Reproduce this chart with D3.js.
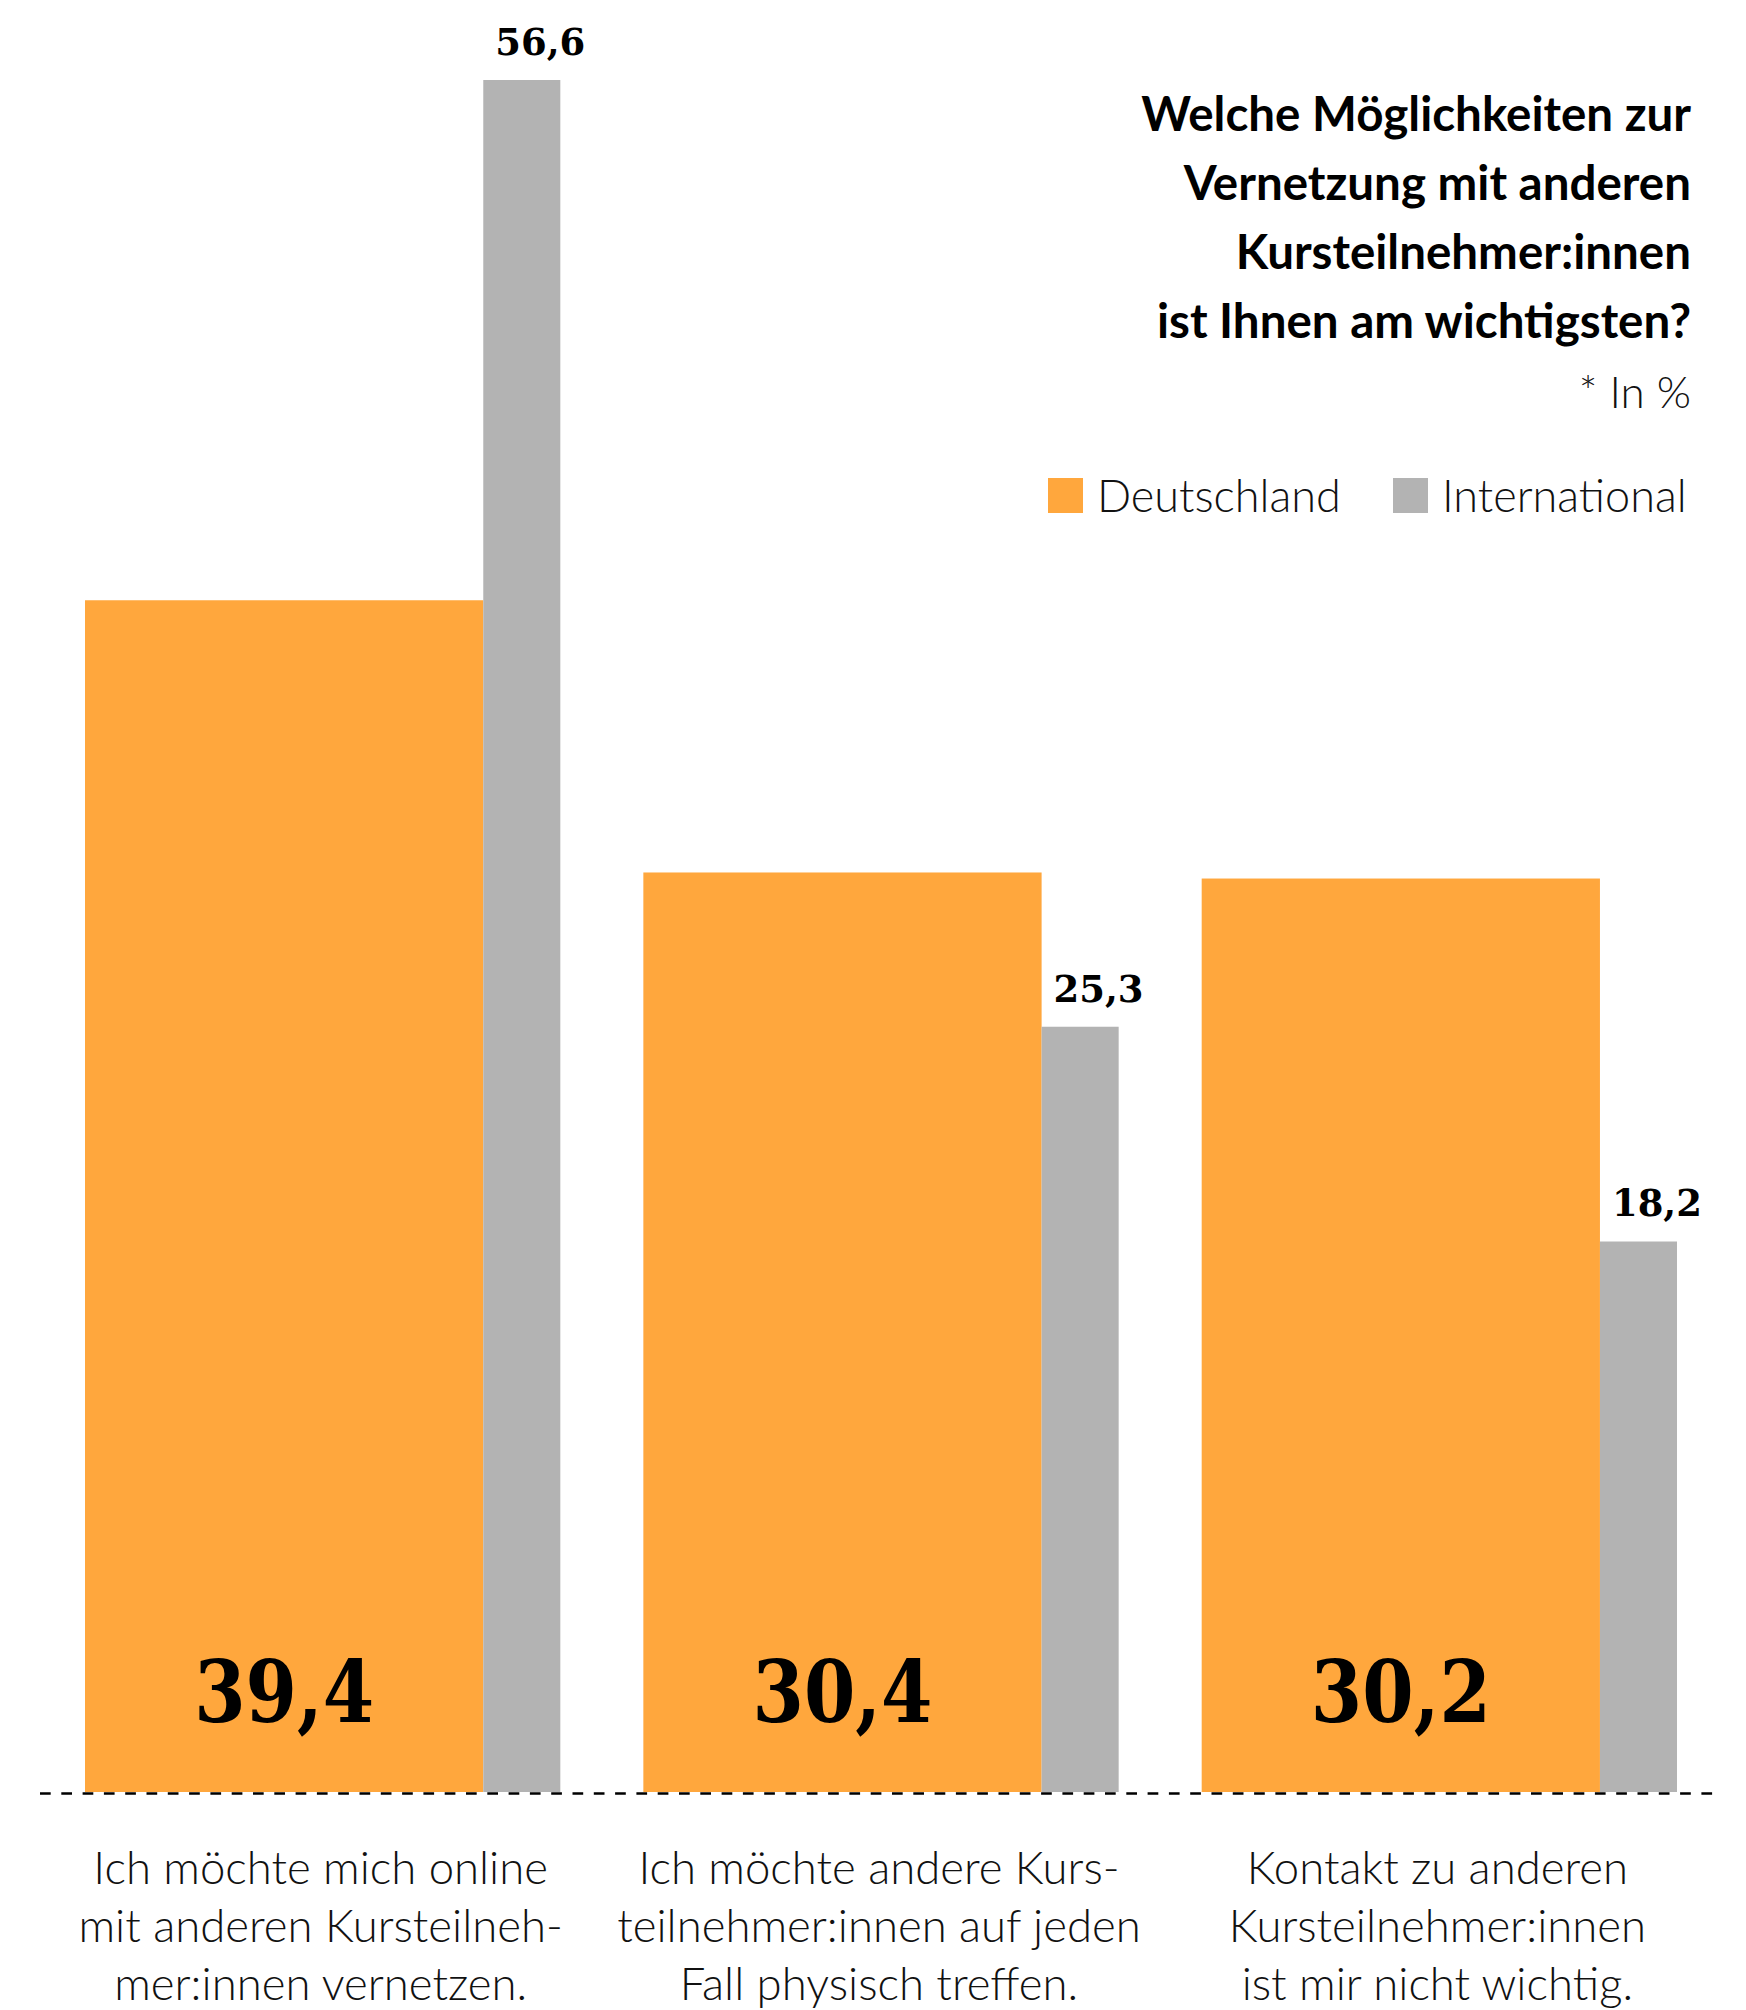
<!DOCTYPE html>
<html>
<head>
<meta charset="utf-8">
<script src="https://cdn.jsdelivr.net/npm/d3@7"></script>
<style>
  html, body { margin: 0; padding: 0; background: #fff; }
  svg { display: block; }
</style>
</head>
<body>
<svg id="chart" width="1746" height="2010"></svg>
<script>
// ---- data ----
const categories = [
  ["Ich möchte mich online", "mit anderen Kursteilneh-", "mer:innen vernetzen."],
  ["Ich möchte andere Kurs-", "teilnehmer:innen auf jeden", "Fall physisch treffen."],
  ["Kontakt zu anderen", "Kursteilnehmer:innen", "ist mir nicht wichtig."]
];
const seriesNames = ["Deutschland", "International"];
const deutschland = [39.4, 30.4, 30.2];
const international = [56.6, 25.3, 18.2];
const titleLines = [
  "Welche Möglichkeiten zur",
  "Vernetzung mit anderen",
  "Kursteilnehmer:innen",
  "ist Ihnen am wichtigsten?"
];
const unitNote = "* In %";

// ---- layout ----
const baseY = 1792;
const colors = { Deutschland: "#FFA73D", International: "#B3B3B3" };
const locale = d3.formatLocale({ decimal: ",", thousands: ".", grouping: [3], currency: ["", " €"] });
const fmt = locale.format(".1f");

const svg = d3.select("#chart");
const ids = d3.range(categories.length);

const x = d3.scaleBand().domain(ids).range([85, 1677]).paddingInner(0.1487).paddingOuter(0);
const y = d3.scaleLinear().domain([0, 56.6]).range([baseY, 80]);
const orangeFrac = 398 / 475;

const g = svg.append("g");

// orange bars
g.selectAll("rect.de").data(deutschland).join("rect")
  .attr("class", "de")
  .attr("x", (d, i) => x(i))
  .attr("y", d => y(d))
  .attr("width", x.bandwidth() * orangeFrac)
  .attr("height", d => baseY - y(d))
  .attr("fill", colors.Deutschland);

// gray bars
g.selectAll("rect.int").data(international).join("rect")
  .attr("class", "int")
  .attr("x", (d, i) => x(i) + x.bandwidth() * orangeFrac)
  .attr("y", d => y(d))
  .attr("width", x.bandwidth() * (1 - orangeFrac))
  .attr("height", d => baseY - y(d))
  .attr("fill", colors.International);

// big labels in orange bars
g.selectAll("text.de").data(deutschland).join("text")
  .attr("class", "de")
  .attr("x", (d, i) => x(i) + x.bandwidth() * orangeFrac / 2)
  .attr("y", baseY - 70)
  .attr("text-anchor", "middle")
  .attr("font-family", "DejaVu Serif")
  .attr("font-weight", "bold")
  .attr("font-size", 86)
  .attr("textLength", 180)
  .attr("lengthAdjust", "spacingAndGlyphs")
  .attr("fill", "#000")
  .text(d => fmt(d));

// labels above gray bars
g.selectAll("text.int").data(international).join("text")
  .attr("class", "int")
  .attr("x", (d, i) => x(i) + x.bandwidth() * orangeFrac + 12)
  .attr("y", d => y(d) - 25)
  .attr("font-family", "DejaVu Serif")
  .attr("font-weight", "bold")
  .attr("font-size", 38)
  .attr("textLength", 90)
  .attr("lengthAdjust", "spacingAndGlyphs")
  .attr("fill", "#000")
  .text(d => fmt(d));

// dashed baseline
svg.append("line")
  .attr("x1", 40).attr("x2", 1716)
  .attr("y1", baseY + 1.5).attr("y2", baseY + 1.5)
  .attr("stroke", "#000")
  .attr("stroke-width", 2.5)
  .attr("stroke-dasharray", "10.7,10.6");

// category labels
const catG = svg.selectAll("g.cat").data(categories).join("g")
  .attr("class", "cat")
  .attr("transform", (d, i) => `translate(${x(i) + x.bandwidth() / 2 - 2},0)`);
catG.selectAll("text").data(d => d).join("text")
  .attr("x", 0)
  .attr("y", (d, j) => 1884 + j * 58)
  .attr("text-anchor", "middle")
  .attr("font-family", "Lato")
  .attr("font-weight", 300)
  .attr("font-size", 45.5)
  .attr("fill", "#111")
  .text(d => d);

// title
const titleG = svg.append("g");
titleG.selectAll("text").data(titleLines).join("text")
  .attr("x", 1691)
  .attr("y", (d, i) => 131 + i * 69)
  .attr("text-anchor", "end")
  .attr("font-family", "Lato")
  .attr("font-weight", "bold")
  .attr("font-size", 47.5)
  .attr("fill", "#000")
  .text(d => d);

svg.append("text")
  .attr("x", 1691).attr("y", 408)
  .attr("text-anchor", "end")
  .attr("font-family", "Lato")
  .attr("font-weight", 300)
  .attr("font-size", 44)
  .attr("fill", "#111")
  .text(unitNote);

// legend
const legendItems = [
  { name: seriesNames[0], sx: 1048, tx: 1097 },
  { name: seriesNames[1], sx: 1393, tx: 1442 }
];
const lg = svg.selectAll("g.legend").data(legendItems).join("g").attr("class", "legend");
lg.append("rect")
  .attr("x", d => d.sx).attr("y", 478)
  .attr("width", 35).attr("height", 35)
  .attr("fill", d => colors[d.name]);
lg.append("text")
  .attr("x", d => d.tx).attr("y", 512)
  .attr("font-family", "Lato")
  .attr("font-weight", 300)
  .attr("font-size", 45)
  .attr("fill", "#111")
  .text(d => d.name);
</script>
</body>
</html>
